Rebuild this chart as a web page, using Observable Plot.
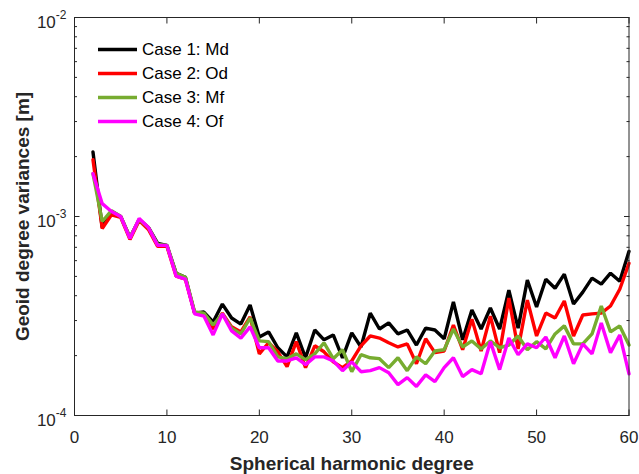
<!DOCTYPE html>
<html><head><meta charset="utf-8">
<script src="https://cdn.jsdelivr.net/npm/d3@7"></script>
<script src="https://cdn.jsdelivr.net/npm/@observablehq/plot@0.6"></script>
<style>
body{margin:0;background:#fff;}
#chart{width:639px;height:474px;}
</style></head><body><div id="chart"></div>
<script>
const degrees = [2,3,4,5,6,7,8,9,10,11,12,13,14,15,16,17,18,19,20,21,22,23,24,25,26,27,28,29,30,31,32,33,34,35,36,37,38,39,40,41,42,43,44,45,46,47,48,49,50,51,52,53,54,55,56,57,58,59,60];
const caseMd = [21.1e-4,8.81e-4,10.6e-4,10.0e-4,7.85e-4,9.66e-4,8.81e-4,7.33e-4,7.16e-4,5.19e-4,4.95e-4,
  3.27e-4,3.31e-4,2.95e-4,3.63e-4,3.09e-4,2.88e-4,3.59e-4,2.48e-4,2.63e-4,2.19e-4,
  1.97e-4,2.60e-4,1.95e-4,2.69e-4,2.40e-4,2.54e-4,1.95e-4,2.60e-4,2.21e-4,3.27e-4,
  2.72e-4,2.92e-4,2.57e-4,2.69e-4,2.26e-4,2.75e-4,2.69e-4,2.43e-4,3.72e-4,2.40e-4,
  3.39e-4,2.72e-4,3.47e-4,2.72e-4,4.26e-4,2.75e-4,4.79e-4,3.51e-4,4.84e-4,4.36e-4,
  5.13e-4,3.63e-4,4.17e-4,4.90e-4,4.57e-4,5.19e-4,4.73e-4,6.68e-4];
const caseOd = [19.3e-4,8.71e-4,10.2e-4,9.89e-4,7.67e-4,9.55e-4,8.61e-4,7.08e-4,7.08e-4,5.01e-4,4.84e-4,
  3.27e-4,3.24e-4,2.72e-4,3.27e-4,2.79e-4,2.63e-4,3.13e-4,2.04e-4,2.32e-4,2.09e-4,
  1.76e-4,2.35e-4,1.74e-4,2.24e-4,2.09e-4,1.86e-4,1.74e-4,1.88e-4,2.24e-4,2.51e-4,
  2.45e-4,2.32e-4,2.21e-4,2.29e-4,1.82e-4,2.43e-4,2.07e-4,2.11e-4,2.85e-4,2.14e-4,
  3.05e-4,2.11e-4,3.16e-4,2.07e-4,3.89e-4,2.16e-4,3.80e-4,2.51e-4,3.27e-4,3.09e-4,
  3.76e-4,2.51e-4,3.20e-4,3.24e-4,3.27e-4,3.55e-4,4.31e-4,5.82e-4];
const caseMf = [16.4e-4,9.44e-4,10.7e-4,10.0e-4,7.85e-4,9.66e-4,8.81e-4,7.24e-4,7.16e-4,5.19e-4,4.95e-4,
  3.31e-4,3.27e-4,2.85e-4,3.24e-4,2.75e-4,2.57e-4,3.09e-4,2.37e-4,2.35e-4,1.97e-4,
  1.93e-4,2.04e-4,1.91e-4,2.04e-4,2.32e-4,1.93e-4,2.14e-4,1.66e-4,2.02e-4,1.95e-4,
  1.93e-4,1.74e-4,1.95e-4,1.68e-4,1.97e-4,1.82e-4,2.11e-4,2.14e-4,2.72e-4,2.21e-4,
  2.37e-4,2.16e-4,2.37e-4,2.19e-4,2.26e-4,2.51e-4,2.14e-4,2.35e-4,2.16e-4,2.57e-4,
  2.82e-4,2.29e-4,2.29e-4,2.57e-4,3.55e-4,2.63e-4,2.82e-4,2.26e-4];
const caseOf = [16.4e-4,11.6e-4,10.6e-4,10.0e-4,7.76e-4,9.77e-4,8.81e-4,7.16e-4,7.16e-4,5.01e-4,4.84e-4,
  3.24e-4,3.16e-4,2.54e-4,3.24e-4,2.66e-4,2.45e-4,2.79e-4,2.19e-4,2.19e-4,1.88e-4,
  1.88e-4,1.95e-4,1.80e-4,1.97e-4,1.97e-4,1.88e-4,1.68e-4,1.86e-4,1.66e-4,1.68e-4,
  1.74e-4,1.64e-4,1.43e-4,1.55e-4,1.40e-4,1.60e-4,1.48e-4,1.74e-4,1.95e-4,1.57e-4,
  1.70e-4,1.62e-4,2.35e-4,1.70e-4,2.45e-4,2.02e-4,2.29e-4,2.19e-4,2.48e-4,1.95e-4,
  2.51e-4,1.82e-4,2.29e-4,2.04e-4,2.92e-4,2.07e-4,2.54e-4,1.62e-4];

const seriesNames = ["Case 1: Md", "Case 2: Od", "Case 3: Mf", "Case 4: Of"];
const seriesValues = [caseMd, caseOd, caseMf, caseOf];
const seriesColors = ["#000000", "#ff0000", "#77ac30", "#ff00ff"];
const xTicks = [0, 10, 20, 30, 40, 50, 60];
const yMajor = [1e-4, 1e-3, 1e-2];
const yMinor = [2e-4,3e-4,4e-4,5e-4,6e-4,7e-4,8e-4,9e-4,2e-3,3e-3,4e-3,5e-3,6e-3,7e-3,8e-3,9e-3];
const xLabel = "Spherical harmonic degree";
const yLabel = "Geoid degree variances [m]";

const rows = seriesNames.flatMap((name, i) =>
  degrees.map((deg, j) => ({deg, value: seriesValues[i][j], series: name})));

const axisColor = "#262626";
const font = "'Liberation Sans', Arial, Helvetica, sans-serif";

const chart = Plot.plot({
  width: 639, height: 474,
  marginLeft: 74, marginRight: 10.5, marginTop: 17, marginBottom: 59,
  style: {fontFamily: font, background: "white", color: axisColor},
  x: {domain: [0, 60], axis: null},
  y: {type: "log", domain: [1e-4, 1e-2], axis: null},
  marks: [
    ...seriesNames.map((name, i) => Plot.line(rows.filter(r => r.series === name),
      {x: "deg", y: "value", stroke: seriesColors[i], strokeWidth: 3.4, strokeLinejoin: "miter"})),
    Plot.frame({stroke: axisColor, strokeWidth: 1}),
    Plot.axisX({anchor: "bottom", ticks: xTicks, tickSize: 5.5, dy: -5.5, fill: "none", label: null, stroke: axisColor}),
    Plot.axisX({anchor: "top", ticks: xTicks, tickSize: 5.5, dy: 5.5, fill: "none", label: null, stroke: axisColor}),
    Plot.axisY({anchor: "left", ticks: yMajor, tickSize: 5.5, dx: 5.5, fill: "none", label: null, stroke: axisColor}),
    Plot.axisY({anchor: "right", ticks: yMajor, tickSize: 5.5, dx: -5.5, fill: "none", label: null, stroke: axisColor}),
    Plot.axisY({anchor: "left", ticks: yMinor, tickSize: 3, dx: 3, fill: "none", label: null, stroke: axisColor}),
    Plot.axisY({anchor: "right", ticks: yMinor, tickSize: 3, dx: -3, fill: "none", label: null, stroke: axisColor}),
    Plot.axisX({anchor: "bottom", ticks: xTicks, tickSize: 0, tickPadding: 15, fontSize: 17, label: null,
      tickFormat: d => String(d), fill: axisColor}),
    Plot.axisY({anchor: "left", ticks: yMajor, tickSize: 0, tickPadding: 8, fontSize: 17, label: null, dy: 5.5,
      tickFormat: d => String(Math.round(Math.log10(d))), fill: axisColor}),
    Plot.text([xLabel], {text: d => d, frameAnchor: "bottom", dy: 48, lineAnchor: "middle", textAnchor: "middle",
      fontSize: 19, fontWeight: "bold", fill: axisColor}),
    Plot.text([yLabel], {text: d => d, frameAnchor: "left", dx: -52, rotate: -90, lineAnchor: "middle", textAnchor: "middle",
      fontSize: 19, fontWeight: "bold", fill: axisColor})
  ]
});

// superscript exponents on the log axis labels
const svg = d3.select(chart);
svg.selectAll('g[aria-label="y-axis tick label"] text').each(function() {
  const exp = this.textContent;
  const t = d3.select(this);
  t.text(null);
  t.append("tspan").text("10");
  t.append("tspan").attr("dy", -9).attr("font-size", 12).text(exp);
});

// legend inside the axes (top-left)
const lg = svg.append("g").attr("font-family", font).attr("text-anchor", "start");
seriesNames.forEach((name, i) => {
  const y = 17 + 32.5 + i * 24;
  lg.append("line").attr("x1", 74 + 24).attr("x2", 74 + 63).attr("y1", y).attr("y2", y)
    .attr("stroke", seriesColors[i]).attr("stroke-width", 3.4);
  lg.append("text").attr("x", 74 + 68).attr("y", y).attr("dy", "0.35em").attr("text-anchor", "start")
    .attr("font-size", 17).attr("fill", "#000").text(name);
});

document.getElementById("chart").appendChild(chart);
</script></body></html>
